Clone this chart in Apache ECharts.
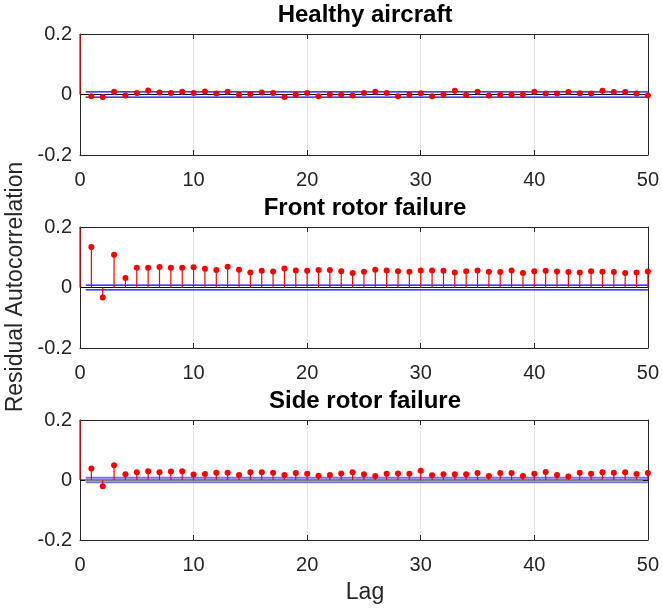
<!DOCTYPE html>
<html>
<head>
<meta charset="utf-8">
<script src="https://cdn.jsdelivr.net/npm/echarts@6/dist/echarts.min.js"></script>
<style>html,body{margin:0;padding:0;background:#fff}#c{width:662px;height:612px}</style>
</head>
<body>
<div id="c"></div>
<script>
const lags = Array.from({length: 51}, (_, i) => i);
const titles = ['Healthy aircraft', 'Front rotor failure', 'Side rotor failure'];
const healthy = [1,
  -0.0055,-0.008,0.009,-0.003,0.005,0.013,0.007,0.005,0.009,0.005,
  0.010,0.003,0.009,-0.001,0.002,0.007,0.005,-0.008,-0.001,0.005,
  -0.0055,0.001,-0.001,-0.003,0.005,0.009,0.005,-0.006,0,0.004,
  -0.006,0,0.012,-0.002,0.009,-0.003,-0.002,-0.001,0,0.009,
  0.003,0.003,0.008,0.004,0.003,0.012,0.008,0.008,0.003,-0.003];
const front = [1,
  0.134,-0.033,0.108,0.031,0.065,0.065,0.068,0.065,0.065,0.067,
  0.062,0.058,0.069,0.059,0.050,0.055,0.053,0.063,0.056,0.055,
  0.058,0.058,0.054,0.048,0.052,0.059,0.056,0.054,0.052,0.056,
  0.056,0.055,0.050,0.054,0.056,0.052,0.051,0.056,0.048,0.054,
  0.055,0.053,0.051,0.050,0.054,0.052,0.051,0.048,0.050,0.053];
const side = [1,
  0.038,-0.021,0.049,0.019,0.026,0.029,0.026,0.028,0.029,0.018,
  0.020,0.024,0.024,0.017,0.026,0.026,0.024,0.017,0.023,0.021,
  0.014,0.017,0.022,0.026,0.019,0.013,0.021,0.022,0.021,0.031,
  0.016,0.019,0.019,0.019,0.023,0.013,0.023,0.023,0.013,0.021,
  0.027,0.017,0.012,0.024,0.021,0.026,0.024,0.026,0.020,0.023];
const bounds = [0.009, 0.008, 0.0078];
const boundLag = [0.5, 50];
const xTicks = [0, 10, 20, 30, 40, 50];
const yTicks = [-0.2, 0, 0.2];

const seriesData = [healthy, front, side];
const gridTops = [34, 227, 420];
const gridHeights = [121, 121, 120];
const boundColors = ['#0000ff', '#0000ff', '#7373f2'];
const boundWidths = [1.2, 1.2, 2];
const FONT = 'Liberation Sans, Arial, Helvetica, sans-serif';
const AX = '#262626';
const YMIN = yTicks[0], YMAX = yTicks[yTicks.length - 1];

const grid = [], xAxis = [], yAxis = [], series = [], graphic = [];
for (let g = 0; g < 3; g++) {
  grid.push({left: 80, right: 12, top: gridTops[g], height: gridHeights[g], containLabel: false});
  const xb = {type: 'value', gridIndex: g, min: xTicks[0], max: xTicks[xTicks.length-1], interval: 10,
    axisLine: {show: true, onZero: false, lineStyle: {color: AX, width: 1}},
    axisTick: {show: true, inside: true, length: 5, lineStyle: {color: AX}},
    splitLine: {show: true, lineStyle: {color: '#e3e3e3', width: 1}},
    axisLabel: {show: true, fontFamily: FONT, fontSize: 20, color: AX, margin: 15}};
  const xt = {type: 'value', gridIndex: g, position: 'top', min: 0, max: 50, interval: 10,
    axisLine: {show: true, onZero: false, lineStyle: {color: AX, width: 1}},
    axisTick: {show: true, inside: true, length: 5, lineStyle: {color: AX}},
    splitLine: {show: false}, axisLabel: {show: false}};
  xAxis.push(xb, xt);
  const yl = {type: 'value', gridIndex: g, min: YMIN, max: YMAX, interval: 0.2,
    axisLine: {show: true, onZero: false, lineStyle: {color: AX, width: 1}},
    axisTick: {show: true, inside: true, length: 5, lineStyle: {color: AX}},
    splitLine: {show: false},
    axisLabel: {show: true, fontFamily: FONT, fontSize: 20, color: AX, margin: 8,
      formatter: v => (Math.abs(v) < 1e-9 ? '0' : v.toFixed(1))}};
  const yr = {type: 'value', gridIndex: g, position: 'right', min: YMIN, max: YMAX, interval: 0.2,
    axisLine: {show: true, onZero: false, lineStyle: {color: AX, width: 1}},
    axisTick: {show: true, inside: true, length: 5, lineStyle: {color: AX}},
    splitLine: {show: false}, axisLabel: {show: false}};
  yAxis.push(yl, yr);
  const xi = g * 2, yi = g * 2;
  const pts = lags.map((l, k) => [l, seriesData[g][k]]);
  series.push({
    type: 'custom', xAxisIndex: xi, yAxisIndex: yi, clip: false, silent: true, z: 6,
    data: pts,
    renderItem: (params, api) => {
      const x = api.value(0);
      const y = Math.max(YMIN, Math.min(YMAX, api.value(1)));
      const p0 = api.coord([x, 0]);
      const p1 = api.coord([x, y]);
      return {type: 'line', shape: {x1: p0[0], y1: p0[1], x2: p1[0], y2: p1[1]},
        style: {stroke: '#ff0000', lineWidth: 1.2}};
    }
  });
  series.push({
    type: 'scatter', xAxisIndex: xi, yAxisIndex: yi, clip: true, silent: true, z: 7,
    symbol: 'circle', symbolSize: 6, itemStyle: {color: '#ff0000', opacity: 1},
    data: pts.slice(1)
  });
  series.push({
    type: 'line', xAxisIndex: xi, yAxisIndex: yi, silent: true, showSymbol: false, z: 4,
    lineStyle: {color: '#000000', width: 1}, data: [[0, 0], [50, 0]]
  });
  [1, -1].forEach(s => {
    series.push({
      type: 'line', xAxisIndex: xi, yAxisIndex: yi, silent: true, showSymbol: false, z: 5,
      lineStyle: {color: boundColors[g], width: boundWidths[g]},
      data: boundLag.map(l => [l, s * bounds[g]])
    });
  });
  graphic.push({type: 'text', x: 365, y: gridTops[g] - 18.5,
    style: {text: titles[g], font: 'bold 24px ' + FONT, fill: '#000', textAlign: 'center', textVerticalAlign: 'middle'}});
}
graphic.push({type: 'text', x: 365, y: 593,
  style: {text: 'Lag', font: '23px ' + FONT, fill: AX, textAlign: 'center', textVerticalAlign: 'middle'}});
graphic.push({type: 'text', x: 16, y: 287, rotation: Math.PI / 2,
  style: {text: 'Residual Autocorrelation', font: '23px ' + FONT, fill: AX, textAlign: 'center', textVerticalAlign: 'middle'}});

const chart = echarts.init(document.getElementById('c'), null, {renderer: 'canvas'});
chart.setOption({animation: false, backgroundColor: '#fff', grid, xAxis, yAxis, series, graphic});
</script>
</body>
</html>
